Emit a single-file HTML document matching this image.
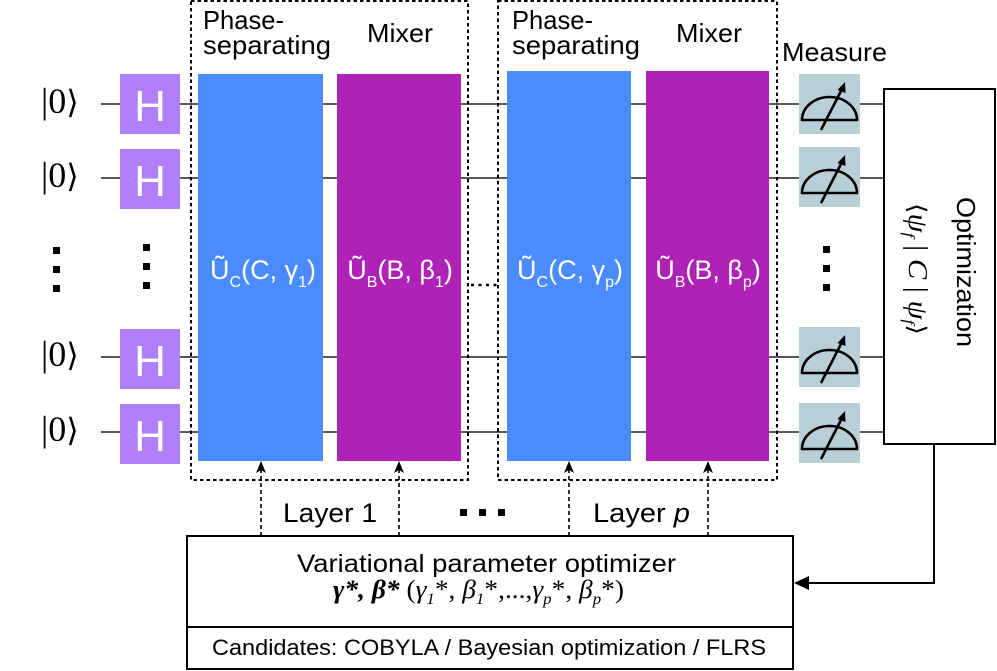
<!DOCTYPE html>
<html><head><meta charset="utf-8"><style>
html,body{margin:0;padding:0;background:#fff;}
svg{display:block;}
.s{font-family:"Liberation Sans",Arial,sans-serif;}
.r{font-family:"Liberation Serif","DejaVu Serif",serif;}
</style></head><body>
<svg width="997" height="671" viewBox="0 0 997 671" xmlns="http://www.w3.org/2000/svg">
<defs>
<g id="meas">
<rect x="0" y="0" width="61" height="60" fill="#b9cfd7"/>
<path d="M3,46 A27.5,23 0 0 1 58,46 Z" fill="none" stroke="#000" stroke-width="2.6" stroke-linejoin="round"/>
<line x1="22" y1="56" x2="43" y2="15" stroke="#000" stroke-width="2.6"/>
<polygon points="46,8 38.5,16 46.5,19" fill="#000"/>
</g>
</defs>

<!-- wires -->
<g stroke="#222" stroke-width="1.6">
<line x1="101" y1="104" x2="884" y2="104"/>
<line x1="101" y1="178" x2="884" y2="178"/>
<line x1="101" y1="357" x2="884" y2="357"/>
<line x1="101" y1="432" x2="884" y2="432"/>
</g>

<!-- dotted layer boxes -->
<g fill="none" stroke="#000" stroke-width="2" stroke-dasharray="3.5,3">
<rect x="191" y="1" width="277" height="479"/>
<rect x="498" y="1" width="279" height="479"/>
</g>

<!-- kets -->
<g class="r" font-size="36" fill="#000">
<text x="41" y="113">|0<tspan font-family="DejaVu Serif,serif" font-size="32">⟩</tspan></text>
<text x="41" y="187">|0<tspan font-family="DejaVu Serif,serif" font-size="32">⟩</tspan></text>
<text x="41" y="366">|0<tspan font-family="DejaVu Serif,serif" font-size="32">⟩</tspan></text>
<text x="41" y="441">|0<tspan font-family="DejaVu Serif,serif" font-size="32">⟩</tspan></text>
</g>

<!-- H gates -->
<g fill="#b07ffa">
<rect x="120" y="74" width="60" height="60"/>
<rect x="120" y="149" width="60" height="60"/>
<rect x="120" y="329" width="60" height="60"/>
<rect x="120" y="404" width="60" height="60"/>
</g>
<g class="s" font-size="44" fill="#fff" text-anchor="middle">
<text x="150" y="121">H</text>
<text x="150" y="196">H</text>
<text x="150" y="376">H</text>
<text x="150" y="451">H</text>
</g>

<!-- vertical dots -->
<g fill="#000">
<rect x="53" y="247" width="7" height="7"/><rect x="53" y="266" width="7" height="7"/><rect x="53" y="285" width="7" height="7"/>
<rect x="143" y="244" width="7" height="7"/><rect x="143" y="263" width="7" height="7"/><rect x="143" y="282" width="7" height="7"/>
<rect x="823" y="246" width="7" height="7"/><rect x="823" y="265" width="7" height="7"/><rect x="823" y="284" width="7" height="7"/>
</g>

<!-- unitary blocks -->
<rect x="198" y="74" width="125" height="387" fill="#4a8cfe"/>
<rect x="337" y="74" width="124" height="387" fill="#ae22b6"/>
<rect x="507" y="71" width="124" height="390" fill="#4a8cfe"/>
<rect x="646" y="71" width="123" height="390" fill="#ae22b6"/>

<g class="s" font-size="27" fill="#fff" text-anchor="middle">
<text x="263" y="279">Ũ<tspan font-size="16" dy="8">C</tspan><tspan dy="-8">(C, γ</tspan><tspan font-size="16" dy="8">1</tspan><tspan dy="-8">)</tspan></text>
<text x="400" y="279">Ũ<tspan font-size="16" dy="8">B</tspan><tspan dy="-8">(B, β</tspan><tspan font-size="16" dy="8">1</tspan><tspan dy="-8">)</tspan></text>
<text x="570" y="279">Ũ<tspan font-size="16" dy="8">C</tspan><tspan dy="-8">(C, γ</tspan><tspan font-size="16" dy="8">p</tspan><tspan dy="-8">)</tspan></text>
<text x="708" y="279">Ũ<tspan font-size="16" dy="8">B</tspan><tspan dy="-8">(B, β</tspan><tspan font-size="16" dy="8">p</tspan><tspan dy="-8">)</tspan></text>
</g>

<!-- dots between layers -->
<line x1="471" y1="285" x2="498" y2="285" stroke="#000" stroke-width="2.5" stroke-dasharray="3,4.5"/>

<!-- top labels -->
<g class="s" font-size="26" fill="#000">
<text x="203" y="29" textLength="81" lengthAdjust="spacingAndGlyphs">Phase-</text>
<text x="203" y="54" textLength="128" lengthAdjust="spacingAndGlyphs">separating</text>
<text x="367" y="42" textLength="66" lengthAdjust="spacingAndGlyphs">Mixer</text>
<text x="512" y="29" textLength="81" lengthAdjust="spacingAndGlyphs">Phase-</text>
<text x="512" y="54" textLength="128" lengthAdjust="spacingAndGlyphs">separating</text>
<text x="676" y="42" textLength="66" lengthAdjust="spacingAndGlyphs">Mixer</text>
<text x="782" y="61" textLength="105" lengthAdjust="spacingAndGlyphs">Measure</text>
</g>

<!-- measure gates -->
<use href="#meas" x="799" y="74"/>
<use href="#meas" x="799" y="147"/>
<use href="#meas" x="799" y="327"/>
<use href="#meas" x="799" y="403"/>

<!-- optimization box -->
<rect x="884" y="89" width="111" height="355" fill="#fff" stroke="#000" stroke-width="2"/>
<text class="s" font-size="26" fill="#000" transform="translate(957,197) rotate(90)" textLength="150" lengthAdjust="spacingAndGlyphs">Optimization</text>
<text class="r" font-size="27" fill="#000" font-style="italic" transform="translate(909,203) rotate(90)" textLength="132" lengthAdjust="spacingAndGlyphs"><tspan font-style="normal" font-family="DejaVu Serif,serif" font-size="24">⟨</tspan>ψ<tspan font-size="16" dy="5">f</tspan><tspan dy="-5" font-style="normal"> | </tspan>C<tspan font-style="normal"> | </tspan>ψ<tspan font-size="16" dy="5">f</tspan><tspan dy="-5" font-style="normal" font-family="DejaVu Serif,serif" font-size="24">⟩</tspan></text>

<!-- feedback arrow -->
<polyline points="934,444 934,583 808,583" fill="none" stroke="#000" stroke-width="2"/>
<polygon points="794,583 809,576 809,590" fill="#000"/>

<!-- dotted arrows -->
<g stroke="#000" stroke-width="1.6" stroke-dasharray="4,3">
<line x1="261" y1="536" x2="261" y2="470"/>
<line x1="399" y1="536" x2="399" y2="470"/>
<line x1="569" y1="536" x2="569" y2="470"/>
<line x1="708" y1="536" x2="708" y2="470"/>
</g>
<g fill="#000">
<polygon points="261,461 256,473 261,470 266,473"/>
<polygon points="399,461 394,473 399,470 404,473"/>
<polygon points="569,461 564,473 569,470 574,473"/>
<polygon points="708,461 703,473 708,470 713,473"/>
</g>

<!-- layer labels -->
<g class="s" font-size="27" fill="#000">
<text x="283" y="522" textLength="94" lengthAdjust="spacingAndGlyphs">Layer 1</text>
<text x="593" y="522" textLength="97" lengthAdjust="spacingAndGlyphs">Layer <tspan font-style="italic">p</tspan></text>
</g>
<g fill="#000">
<rect x="460" y="509" width="7" height="7"/><rect x="479" y="509" width="7" height="7"/><rect x="498" y="509" width="7" height="7"/>
</g>

<!-- optimizer box -->
<rect x="187" y="536" width="606" height="133" fill="#fff" stroke="#000" stroke-width="2"/>
<line x1="187" y1="627" x2="793" y2="627" stroke="#000" stroke-width="2"/>
<text class="s" font-size="25" fill="#000" x="297" y="572" textLength="379" lengthAdjust="spacingAndGlyphs">Variational parameter optimizer</text>
<text class="r" font-size="26" fill="#000" x="333" y="598" textLength="291" lengthAdjust="spacingAndGlyphs"><tspan font-weight="bold" font-style="italic">γ*, β*</tspan> (<tspan font-style="italic">γ</tspan><tspan font-style="italic" font-size="16" dy="6">1</tspan><tspan dy="-6">*, </tspan><tspan font-style="italic">β</tspan><tspan font-style="italic" font-size="16" dy="6">1</tspan><tspan dy="-6">*,...,</tspan><tspan font-style="italic">γ</tspan><tspan font-style="italic" font-size="16" dy="6">p</tspan><tspan dy="-6">*, </tspan><tspan font-style="italic">β</tspan><tspan font-style="italic" font-size="16" dy="6">p</tspan><tspan dy="-6">*)</tspan></text>
<text class="s" font-size="22" fill="#000" x="212" y="655" textLength="554" lengthAdjust="spacingAndGlyphs">Candidates: COBYLA / Bayesian optimization / FLRS</text>
</svg>
</body></html>
